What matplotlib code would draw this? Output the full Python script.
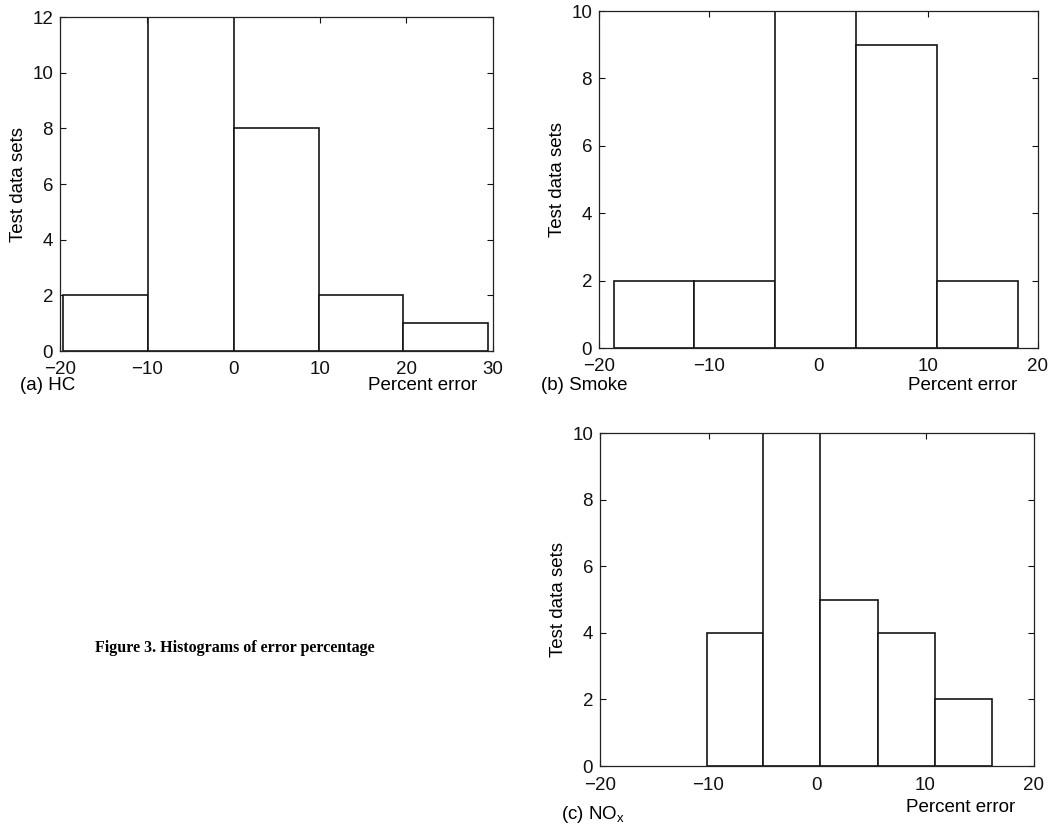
import matplotlib.pyplot as plt
import numpy as np

plt.rcParams['font.family'] = ['Liberation Sans', 'DejaVu Sans']
plt.rcParams['font.size'] = 13.5

# bin edges and counts for each histogram
hc_edges = [-19.6, -9.85, 0.1, 9.85, 19.6, 29.4]
hc_counts = [2, 12, 8, 2, 1]

smoke_edges = [-18.66, -11.37, -3.92, 3.4, 10.76, 18.2]
smoke_counts = [2, 2, 10, 9, 2]

nox_edges = [-10.17, -4.95, 0.3, 5.65, 10.88, 16.16]
nox_counts = [4, 10, 5, 4, 2]

W, H = 1057, 830
fig = plt.figure(figsize=(W / 100, H / 100), dpi=100)


def px(x, y):
  return x / W, 1 - y / H


def rect_from_px(left, top, right, bottom):
  return [left / W, 1 - bottom / H, (right - left) / W, (bottom - top) / H]


def hist_panel(rect, edges, counts, xlim, ymax, xpad):
  ax = fig.add_axes(rect)
  edges = np.array(edges)
  ax.bar(edges[:-1], counts, width=np.diff(edges), align='edge',
         color='white', edgecolor='#151515', linewidth=1.2, zorder=2)
  ax.set_xlim(*xlim)
  ax.set_ylim(0, ymax)
  ax.set_xticks(np.arange(xlim[0], xlim[1] + 1, 10))
  ax.set_yticks(np.arange(0, ymax + 1, 2))
  ax.set_xticklabels([str(int(v)).replace('-', '\u2212') for v in ax.get_xticks()])
  ax.tick_params(direction='in', top=True, right=True, length=4, width=0.8,
                 labelsize=13.5, colors='#111111')
  ax.tick_params(axis='x', pad=xpad)
  ax.tick_params(axis='y', pad=5)
  for s in ax.spines.values():
    s.set_linewidth(0.9)
    s.set_color('#222222')
  ax.set_ylabel('Test data sets', fontsize=13.5, labelpad=4)
  return ax


ax_a = hist_panel(rect_from_px(60, 17, 493, 351), hc_edges, hc_counts, (-20, 30), 12, 7)
ax_b = hist_panel(rect_from_px(599, 11, 1038, 348), smoke_edges, smoke_counts, (-20, 20), 10, 7)
ax_c = hist_panel(rect_from_px(600, 433, 1034, 766), nox_edges, nox_counts, (-20, 20), 10, 8)

fig.text(*px(20, 385), '(a) HC', fontsize=13.5, va='center', ha='left')
fig.text(*px(368, 385), 'Percent error', fontsize=13.5, va='center', ha='left')
fig.text(*px(541, 385), '(b) Smoke', fontsize=13.5, va='center', ha='left')
fig.text(*px(908, 385), 'Percent error', fontsize=13.5, va='center', ha='left')
fig.text(*px(906, 807), 'Percent error', fontsize=13.5, va='center', ha='left')
fig.text(*px(561, 814), '(c) NO$_\\mathregular{x}$', fontsize=13.5, va='center', ha='left')

fig.text(*px(95, 648), 'Figure 3. Histograms of error percentage',
         fontsize=11.5, fontweight='bold', family='Liberation Serif',
         va='center', ha='left')

fig.savefig('out.png', dpi=100)
